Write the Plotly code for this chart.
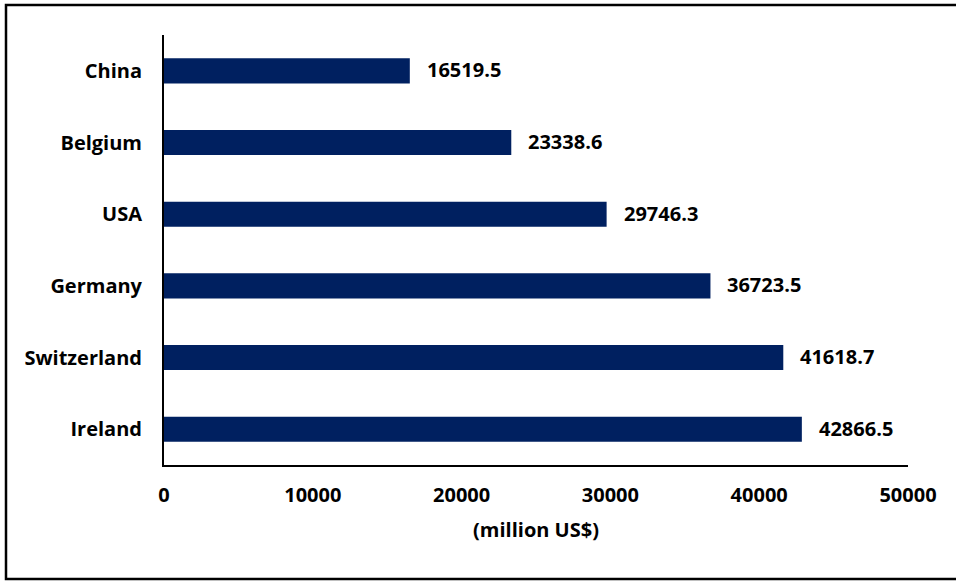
import plotly.graph_objects as go

countries = ["China", "Belgium", "USA", "Germany", "Switzerland", "Ireland"]
exports = [16519.5, 23338.6, 29746.3, 36723.5, 41618.7, 42866.5]
x_ticks = [0, 10000, 20000, 30000, 40000, 50000]
x_title = "(million US$)"

W, H = 956, 581
L, R, T, B = 164, 48, 35, 116
pw, ph = W - L - R, H - T - B

FONT = "Open Sans"
BAR = "#002060"
FS = 20
LABEL_FONT = dict(family=FONT, size=FS, color="#000000", weight="bold")

fig = go.Figure(go.Bar(
    y=countries,
    x=exports,
    orientation="h",
    marker=dict(color=BAR, line=dict(width=0)),
    width=0.35,
    hoverinfo="x+y",
))

# value labels, offset to the right of each bar end
for c, v in zip(countries, exports):
    fig.add_annotation(
        x=v, y=c, xref="x", yref="y",
        text=f"{v:.1f}", showarrow=False,
        xanchor="left", xshift=15, yshift=1,
        font=LABEL_FONT,
    )

# frame around the whole chart
fig.add_shape(
    type="rect", xref="paper", yref="paper",
    x0=(6 - L) / pw, x1=(W + 10 - L) / pw,
    y0=(H - 579 - B) / ph, y1=(H - 5 - B) / ph,
    line=dict(color="#000000", width=2.5), fillcolor="rgba(0,0,0,0)",
    layer="below",
)

fig.update_layout(
    width=W, height=H,
    margin=dict(l=L, r=R, t=T, b=B),
    paper_bgcolor="white", plot_bgcolor="white",
    showlegend=False,
    font=dict(family=FONT, color="#000000"),
    xaxis=dict(
        range=[0, 50000], tickvals=x_ticks,
        ticktext=[str(t) for t in x_ticks],
        showgrid=False, zeroline=False,
        showline=True, linecolor="#000000", linewidth=2,
        ticks="", ticklabelstandoff=11,
        tickfont=dict(family=FONT, size=FS, weight="bold"),
        title=dict(text=x_title, standoff=16,
                   font=dict(family=FONT, size=FS, weight="bold")),
    ),
    yaxis=dict(
        autorange="reversed",
        showgrid=False, zeroline=False,
        showline=True, linecolor="#000000", linewidth=2,
        ticks="", ticklabelstandoff=16,
        tickfont=dict(family=FONT, size=FS, weight="bold"),
    ),
)

fig.write_html("out.html")
